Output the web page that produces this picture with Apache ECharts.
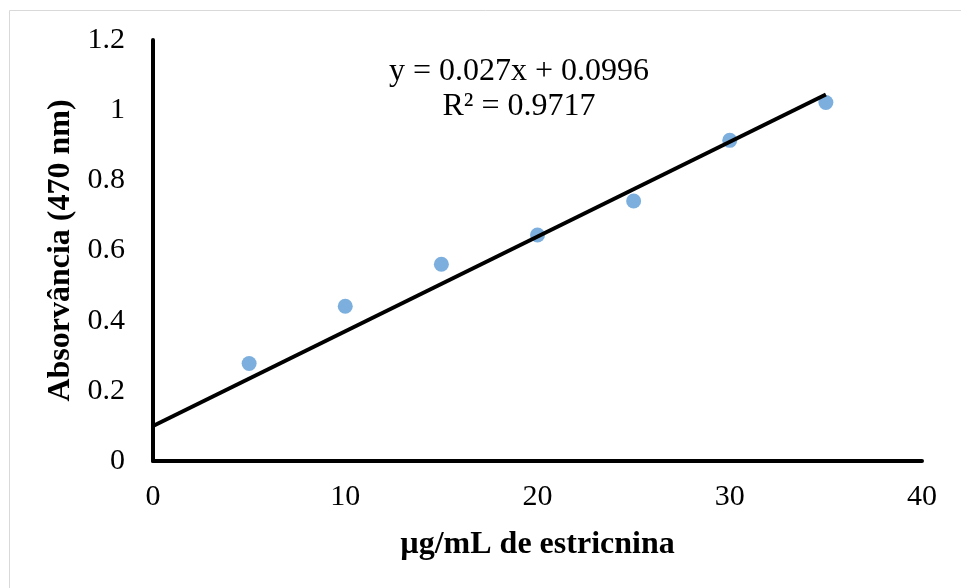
<!DOCTYPE html>
<html>
<head>
<meta charset="utf-8">
<script src="https://cdn.jsdelivr.net/npm/echarts@6/dist/echarts.min.js"></script>
<style>
  html, body { margin: 0; padding: 0; background: #fff; }
  #chart { width: 961px; height: 588px; }
</style>
</head>
<body>
<div id="chart"></div>
<script>
// concentração (µg/mL) e absorvância lida
const concentrations = [5, 10, 15, 20, 25, 30, 35];
const absorbances = [0.278, 0.441, 0.561, 0.644, 0.741, 0.914, 1.022];

// linha de tendência linear (y = a·x + b)
const slope = 0.027;
const intercept = 0.0996;
const trendRange = [0, 35];
const equationLabel = 'y = 0.027x + 0.0996';
const r2Label = 'R² = 0.9717';

const font = '"Liberation Serif", "Times New Roman", serif';

const chart = echarts.init(document.getElementById('chart'));

const scatterData = concentrations.map((x, i) => [x, absorbances[i]]);
const trendData = trendRange.map((x) => [x, slope * x + intercept]);

const option = {
  animation: false,
  grid: { left: 153, right: 39, top: 40, bottom: 127 },
  xAxis: {
    type: 'value',
    min: 0,
    max: 40,
    interval: 10,
    name: 'µg/mL de estricnina',
    nameLocation: 'middle',
    nameGap: 68,
    nameTextStyle: { fontFamily: font, fontSize: 32, fontWeight: 'bold', color: '#000' },
    axisLine: { show: true, lineStyle: { color: '#000', width: 4 } },
    axisTick: { show: false },
    axisLabel: { fontFamily: font, fontSize: 30, color: '#000', margin: 21 },
    splitLine: { show: false },
  },
  yAxis: {
    type: 'value',
    min: 0,
    max: 1.2,
    interval: 0.2,
    name: 'Absorvância (470 nm)',
    nameLocation: 'middle',
    nameGap: 75,
    nameTextStyle: { fontFamily: font, fontSize: 32, fontWeight: 'bold', color: '#000' },
    axisLine: { show: true, lineStyle: { color: '#000', width: 4 } },
    axisTick: { show: false },
    axisLabel: { fontFamily: font, fontSize: 30, color: '#000', margin: 28 },
    splitLine: { show: false },
  },
  graphic: [
    {
      type: 'rect',
      left: 7,
      top: 8,
      shape: { width: 1000, height: 1000 },
      style: { fill: 'none', stroke: '#d9d9d9', lineWidth: 1 },
      silent: true,
      z: -1,
    },
    {
      type: 'text',
      x: 519,
      y: 72,
      style: { text: equationLabel, font: '32px ' + font, fill: '#000', align: 'center', verticalAlign: 'middle' },
    },
    {
      type: 'text',
      x: 519,
      y: 107,
      style: { text: r2Label, font: '32px ' + font, fill: '#000', align: 'center', verticalAlign: 'middle' },
    },
  ],
  series: [
    {
      type: 'scatter',
      data: scatterData,
      symbolSize: 15,
      itemStyle: { color: '#5B9BD5' },
      z: 2,
    },
    {
      type: 'line',
      data: trendData,
      showSymbol: false,
      lineStyle: { color: '#000', width: 4 },
      z: 3,
    },
  ],
};

chart.setOption(option);
</script>
</body>
</html>
